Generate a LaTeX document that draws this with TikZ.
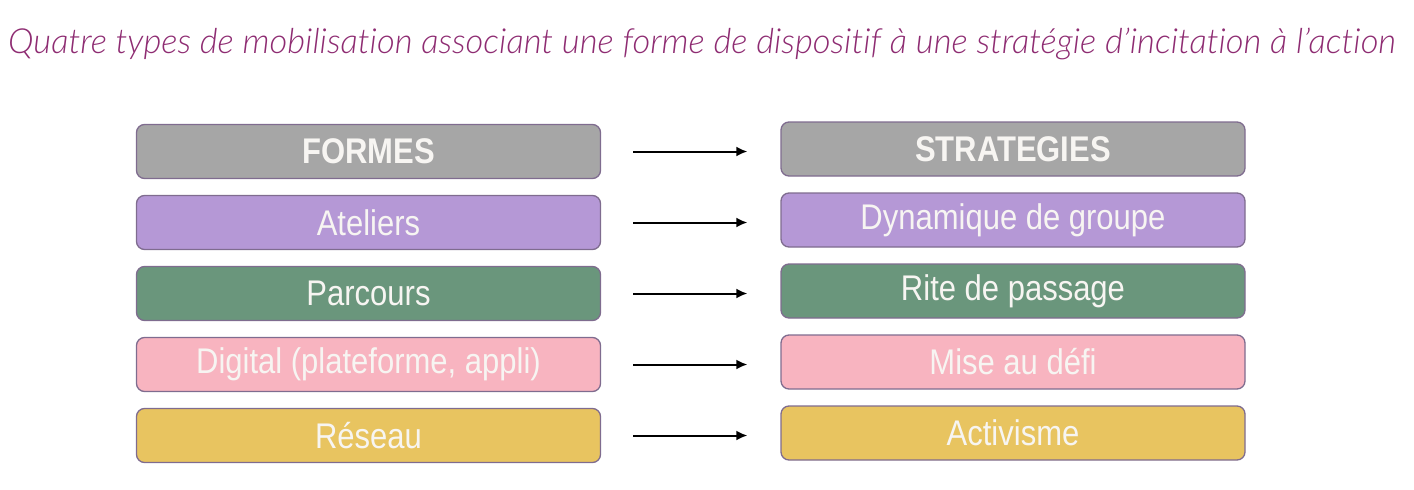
\documentclass[tikz,border=0pt]{standalone}
\usepackage{fontspec}
\setmainfont{Liberation Sans}
\newfontfamily\titlefont[Ligatures=NoCommon]{Lato Light}
\usetikzlibrary{arrows.meta,positioning}
\definecolor{titlepurple}{HTML}{8E2C72}
\definecolor{boxline}{HTML}{7F6C8F}
\definecolor{formgray}{HTML}{A6A6A6}
\definecolor{atelierpurple}{HTML}{B598D6}
\definecolor{parcoursgreen}{HTML}{6A967C}
\definecolor{digitalpink}{HTML}{F8B4C0}
\definecolor{reseaugold}{HTML}{E8C460}
\definecolor{boxtext}{HTML}{F7F5F2}
\newcommand{\tall}[1]{\scalebox{1}[1.15]{#1}}
\begin{document}
\begin{tikzpicture}[x=1pt,y=-1pt,
    node distance=15.7pt,
    box/.style={draw=boxline, line width=1.3pt, rounded corners=8pt,
      minimum width=464pt, minimum height=54pt, inner sep=0pt,
      text=boxtext, font=\fontsize{31}{31}\selectfont},
    headbox/.style={box, fill=formgray, font=\fontsize{31}{31}\selectfont\bfseries},
    link/.style={-{Latex[length=11pt,width=10pt]}, line width=2pt,
      shorten <=32pt, shorten >=33pt}]
  \useasboundingbox (0,0) rectangle (1414,490);
  % title
  \node[anchor=base west, inner sep=0pt, text=titlepurple] (title) at (8,53)
    {\resizebox{1387pt}{!}{\titlefont\itshape Quatre types de mobilisation associant une forme de dispositif à une stratégie d’incitation à l’action}};
  % formes
  \node[headbox] (f0) at (368.5,151.5) {\tall{FORMES}};
  \node[box, fill=atelierpurple, below=of f0] (f1) {\tall{Ateliers}};
  \node[box, fill=parcoursgreen, below=of f1] (f2) {\tall{Parcours}};
  \node[box, fill=digitalpink, below=of f2] (f3) {\tall{Digital (plateforme, appli)}};
  \node[box, fill=reseaugold, below=of f3] (f4) {\tall{Réseau}};
  % strategies
  \node[headbox] (s0) at (1013,149) {\tall{STRATEGIES}};
  \node[box, fill=atelierpurple, below=of s0] (s1) {\tall{Dynamique de groupe}};
  \node[box, fill=parcoursgreen, below=of s1] (s2) {\tall{Rite de passage}};
  \node[box, fill=digitalpink, below=of s2] (s3) {\tall{Mise au défi}};
  \node[box, fill=reseaugold, below=of s3] (s4) {\tall{Activisme}};
  % arrows
  \draw[link] (f0.east) -- (f0.east -| s0.west);
  \draw[link] (f1.east) -- (f1.east -| s1.west);
  \draw[link] (f2.east) -- (f2.east -| s2.west);
  \draw[link] (f3.east) -- (f3.east -| s3.west);
  \draw[link] (f4.east) -- (f4.east -| s4.west);
\end{tikzpicture}
\end{document}
